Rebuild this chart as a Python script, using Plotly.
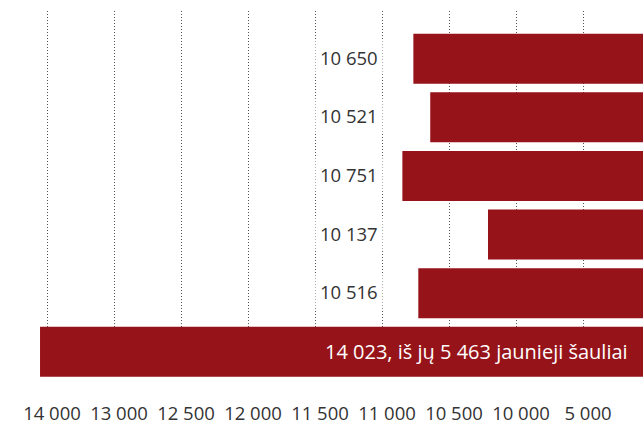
import numpy as np
import plotly.graph_objects as go

# ---- data ----
tick_values = [14000, 13000, 12500, 12000, 11500, 11000, 10500, 10000, 5000]
tick_labels = ["14 000", "13 000", "12 500", "12 000", "11 500", "11 000", "10 500", "10 000", "5 000"]
rows = [0, 1, 2, 3, 4, 5]
value_labels = ["10 650", "10 521", "10 751", "10 137", "10 516"]
last_label = "14 023, iš jų 5 463 jaunieji šauliai"
# bar ends as read off the drawn (non-linear) axis
bar_values = [10766, 10640, 10848, 10209, 10729, 14104]

BAR = "#96131A"
FONT = "Open Sans, Noto Sans, sans-serif"

# piecewise scale: each tick label sits on an equally spaced gridline
scale_vals = [0] + tick_values[::-1] + [15000]
scale_pos = [len(tick_values)] + list(range(len(tick_values) - 1, -1, -1)) + [-1]

def pos(v):
    return float(np.interp(v, scale_vals, scale_pos))

base = pos(0)
lengths = [pos(v) - base for v in bar_values]

fig = go.Figure()
fig.add_trace(go.Bar(
    y=rows, x=lengths, base=base, orientation="h",
    marker=dict(color=BAR, line=dict(width=0)),
    width=0.853, hoverinfo="skip",
))

annotations = []
for r, t in zip(rows[:-1], value_labels):
    annotations.append(dict(
        x=4.5, y=r, xref="x", yref="y", text=t, showarrow=False,
        xanchor="center", yanchor="middle", yshift=1.5, bgcolor="white", borderpad=4,
        font=dict(family=FONT, size=18.5, color="#333333"),
    ))
annotations.append(dict(
    x=1, y=rows[-1], xref="paper", yref="y", text=last_label, showarrow=False,
    xanchor="right", yanchor="middle", xshift=-13,
    font=dict(family=FONT, size=20, color="#ffffff"),
))

fig.update_layout(
    width=643, height=424,
    margin=dict(l=0, r=0, t=11, b=47),
    paper_bgcolor="white", plot_bgcolor="white",
    showlegend=False,
    annotations=annotations,
    xaxis=dict(
        range=[-47 / 67, 596 / 67], automargin=False,
        tickvals=[pos(v) for v in tick_values], ticktext=tick_labels,
        showgrid=True, gridcolor="#555555", gridwidth=1, griddash="1px,2px",
        zeroline=False, showline=False, ticks="",
        ticklabelstandoff=23, ticklabelshift=5,
        tickfont=dict(family=FONT, size=18.5, color="#333333"),
    ),
    yaxis=dict(
        range=[5.43, -0.814], showgrid=False, zeroline=False, automargin=False,
        showticklabels=False, showline=False, ticks="",
    ),
)

fig.write_html(
    "out.html",
    config={"displayModeBar": False},
    post_script="document.body.style.margin='0';document.body.style.overflow='hidden';",
)
